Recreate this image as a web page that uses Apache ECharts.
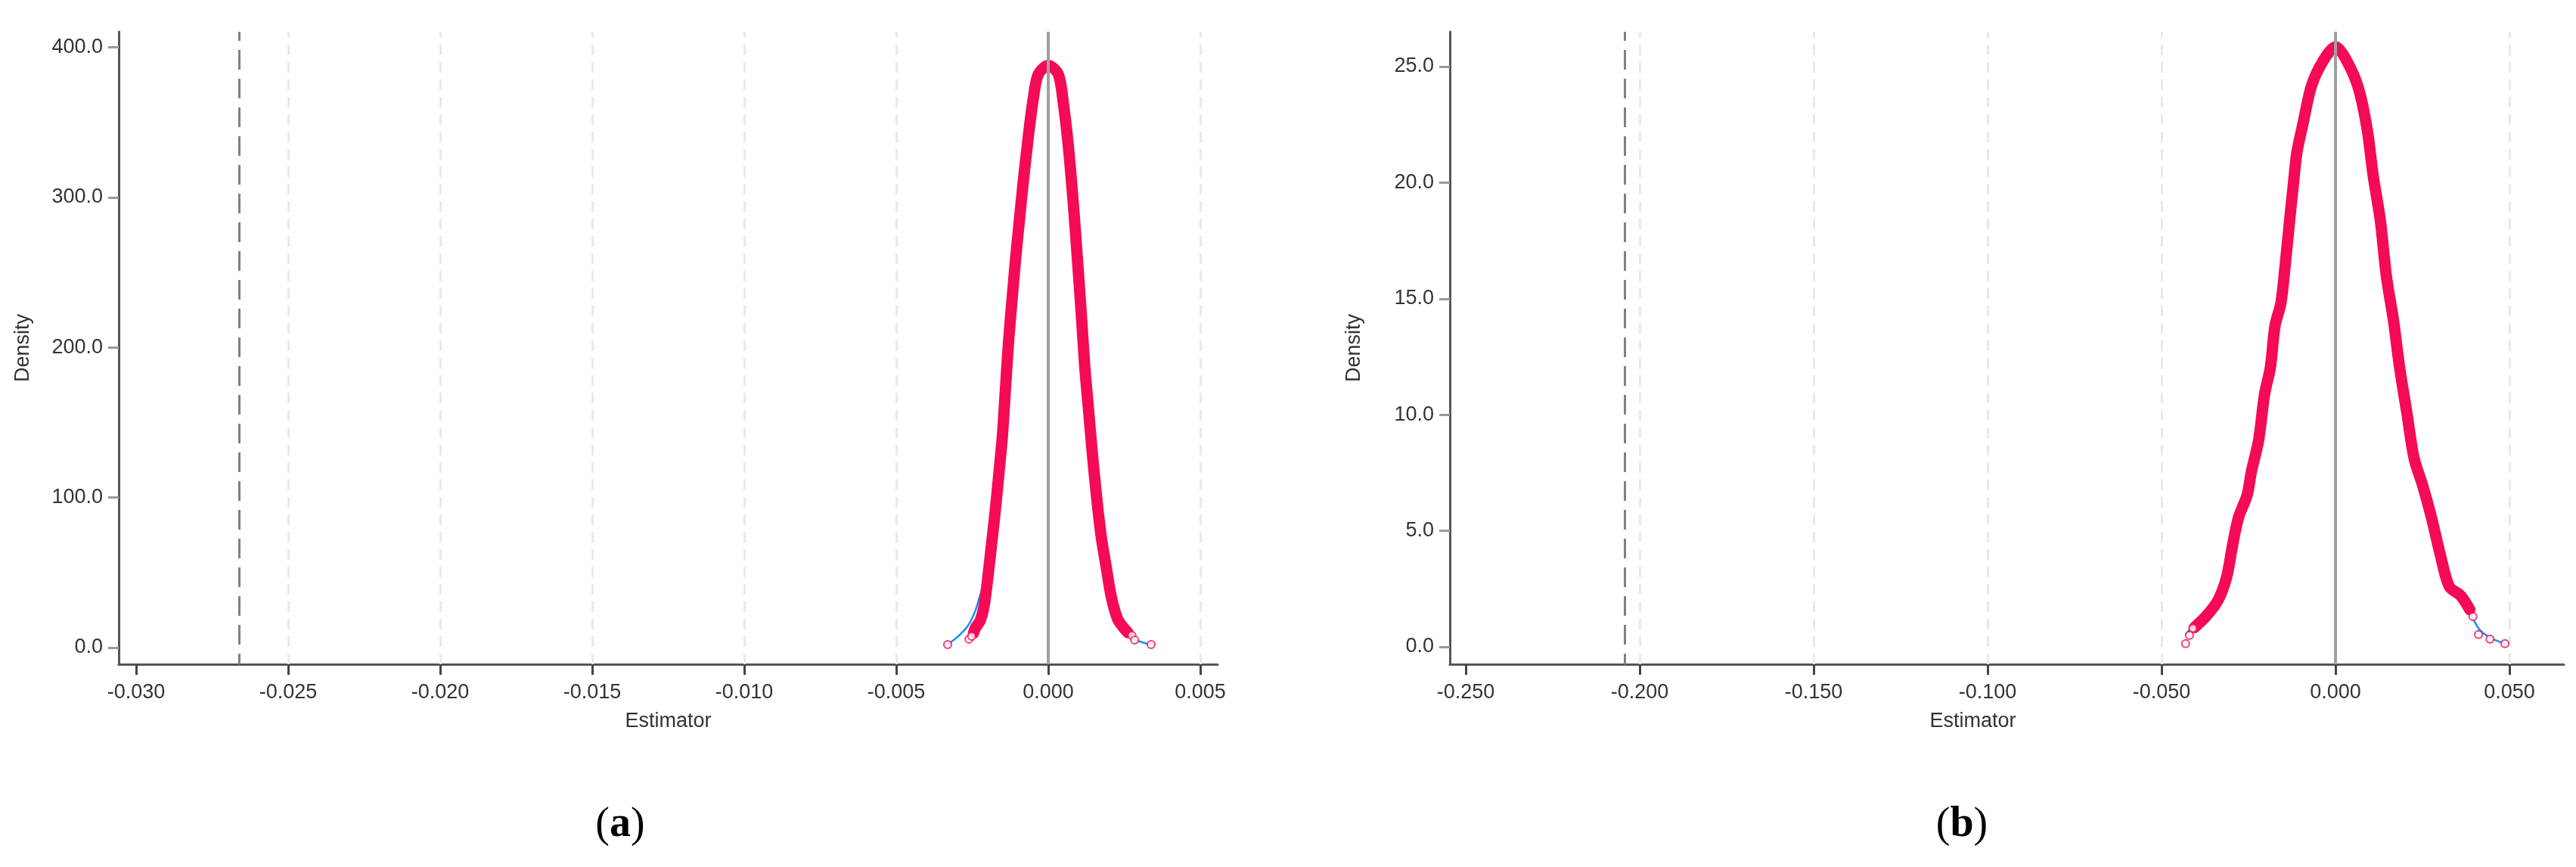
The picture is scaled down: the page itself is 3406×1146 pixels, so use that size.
<!DOCTYPE html>
<html><head><meta charset="utf-8">
<script src="https://cdn.jsdelivr.net/npm/echarts@6/dist/echarts.min.js"></script>
<style>html,body{margin:0;padding:0;background:#fff}#c{width:3406px;height:1146px}</style>
</head><body><div id="c"></div>
<script>
// ---------- tick labels ----------
const xTicksA = [-0.030, -0.025, -0.020, -0.015, -0.010, -0.005, 0.000, 0.005];
const yTicksA = [0, 100, 200, 300, 400];
const xTicksB = [-0.250, -0.200, -0.150, -0.100, -0.050, 0.000, 0.050];
const yTicksB = [0, 5, 10, 15, 20, 25];
const gridLinesA = [-0.025, -0.020, -0.015, -0.010, -0.005, 0.005];
const gridLinesB = [-0.200, -0.150, -0.100, -0.050, 0.050];
// ---------- reference lines ----------
const refLineA = -0.0266;
const refLineB = -0.2043;
// ---------- axis ranges ----------
const xRangeA = [-0.03057, 0.00557];
const yRangeA = [-11.1, 410.4];
const xRangeB = [-0.25457, 0.06565];
const yRangeB = [-0.75, 26.5];

// ---------- panel (a) ----------
const bandAx = [-0.00246,-0.00240,-0.00224,-0.00211,-0.00199,-0.00187,-0.00174,-0.00162,-0.00151,-0.00141,-0.00131,-0.00120,-0.00108,-0.00095,-0.00083,-0.00066,-0.00050,-0.00033,0.00000,0.00033,0.00050,0.00066,0.00083,0.00095,0.00108,0.00120,0.00133,0.00145,0.00158,0.00174,0.00191,0.00207,0.00228,0.00249,0.00262];
const bandAy = [9.6,13,18,28,46.5,68,92,117,141,172,203,230,258,285,309,340,365,382,388,382,362,334,294,261,224,187,157,129,102,74,53,34,19,12.9,10];
const dotsAx = [-0.00331,-0.00261,-0.00252,0.00275,0.00284,0.00338];
const dotsAy = [2,5.6,7.5,8,5,2];
const blueAx = [-0.00331,-0.00296,-0.00264,-0.00239,-0.00221,-0.00199,-0.00187,-0.00174,-0.00162,-0.00151,-0.00141,-0.00131,-0.00120,-0.00108,-0.00095,-0.00083,-0.00066,-0.00050,-0.00033,0.00000,0.00033,0.00050,0.00066,0.00083,0.00095,0.00108,0.00120,0.00133,0.00145,0.00158,0.00174,0.00191,0.00207,0.00228,0.00249,0.00284,0.00338];
const blueAy = [2,7.6,14.6,25,37,46.5,68,92,117,141,172,203,230,258,285,309,340,365,382,388,382,362,334,294,261,224,187,157,129,102,74,53,34,19,12.9,5.5,2];

// ---------- panel (b) ----------
const bandBx = [-0.0406,-0.0372,-0.0338,-0.0313,-0.0296,-0.0279,-0.0254,-0.0242,-0.0221,-0.0204,-0.0187,-0.0174,-0.0157,-0.0145,-0.0132,-0.0121,-0.0111,-0.0094,-0.0069,-0.0035,0.0000,0.0032,0.0066,0.0091,0.0108,0.0129,0.0146,0.0167,0.0184,0.0205,0.0226,0.0251,0.0276,0.0301,0.0327,0.0360,0.0386];
const bandBy = [0.83,1.32,2.0,3.0,4.37,5.56,6.54,7.53,8.9,10.87,12.06,13.83,14.81,16.39,18.36,19.94,21.3,22.5,24.17,25.26,25.85,25.26,24.07,22.3,20.33,18.36,16.0,14.03,12.06,10.09,8.12,6.93,5.56,3.98,2.6,2.2,1.6];
const dotsBx = [-0.0431,-0.0420,-0.0410,0.0395,0.0411,0.0444,0.0487];
const dotsBy = [0.14,0.5,0.8,1.3,0.53,0.33,0.14];
const blueBx = [-0.0431,-0.0406,-0.0372,-0.0338,-0.0313,-0.0296,-0.0279,-0.0254,-0.0242,-0.0221,-0.0204,-0.0187,-0.0174,-0.0157,-0.0145,-0.0132,-0.0121,-0.0111,-0.0094,-0.0069,-0.0035,0.0000,0.0032,0.0066,0.0091,0.0108,0.0129,0.0146,0.0167,0.0184,0.0205,0.0226,0.0251,0.0276,0.0301,0.0327,0.0360,0.0386,0.0411,0.0444,0.0487];
const blueBy = [0.53,1.0,1.6,2.3,3.0,4.37,5.56,6.54,7.53,8.9,10.87,12.06,13.83,14.81,16.39,18.36,19.94,21.3,22.5,24.17,25.26,25.85,25.26,24.07,22.3,20.33,18.36,16.0,14.03,12.06,10.09,8.12,6.93,5.56,3.98,2.6,2.2,1.5,0.8,0.4,0.14];

const zip = (xs, ys) => xs.map((x, i) => [x, ys[i]]);

const FONT = "'Liberation Sans', Arial, sans-serif";
const SERIF = "'Liberation Serif', 'Times New Roman', serif";
const RED = '#f50a55';
const BLUE = '#1a8cff';

function xAxisFor(idx, range, ticks, namePad) {
  return {
    type: 'value', gridIndex: idx, min: range[0], max: range[1],
    name: 'Estimator', nameLocation: 'middle', nameGap: 62,
    nameTextStyle: { fontFamily: FONT, fontSize: 27, color: '#333', padding: namePad },
    axisLine: { show: true, onZero: false, lineStyle: { color: '#555', width: 3 } },
    axisTick: { show: true, customValues: ticks, length: 14, lineStyle: { color: '#444', width: 3 } },
    axisLabel: { show: true, customValues: ticks, margin: 24, fontFamily: FONT, fontSize: 27, color: '#333',
                 formatter: v => v.toFixed(3) },
    splitLine: { show: false }
  };
}
function yAxisFor(idx, range, ticks) {
  return {
    type: 'value', gridIndex: idx, min: range[0], max: range[1],
    name: 'Density', nameLocation: 'middle', nameGap: 113, nameRotate: 90,
    nameTextStyle: { fontFamily: FONT, fontSize: 27, color: '#333' },
    axisLine: { show: true, onZero: false, lineStyle: { color: '#555', width: 3 } },
    axisTick: { show: true, customValues: ticks, length: 14, lineStyle: { color: '#999', width: 3 } },
    axisLabel: { show: true, customValues: ticks, margin: 21, fontFamily: FONT, fontSize: 27, color: '#333',
                 formatter: v => v.toFixed(1) },
    splitLine: { show: false }
  };
}
function seriesFor(idx, grid, ref, band, dots, blue) {
  return [
    {
      type: 'line', xAxisIndex: idx, yAxisIndex: idx, data: blue, showSymbol: false, smooth: 0.3,
      lineStyle: { color: BLUE, width: 2.5 }, z: 2, silent: true, animation: false,
      markLine: {
        z: 1, silent: true, symbol: 'none', animation: false, precision: 10, label: { show: false },
        lineStyle: { color: '#e9e9e9', width: 3, type: [14, 9] },
        data: grid.map(v => ({ xAxis: v }))
      }
    },
    {
      type: 'line', xAxisIndex: idx, yAxisIndex: idx, data: band, showSymbol: false, smooth: 0.3,
      lineStyle: { color: RED, width: 15, cap: 'round', join: 'round' }, z: 3, silent: true, animation: false,
      markLine: {
        z: 5, silent: true, symbol: 'none', animation: false, precision: 10, label: { show: false },
        data: [
          { xAxis: 0, lineStyle: { color: '#a0a0a0', width: 4, type: 'solid' } },
          { xAxis: ref, lineStyle: { color: '#808080', width: 3, type: [26, 12], dashOffset: 12 } }
        ]
      }
    },
    {
      type: 'scatter', xAxisIndex: idx, yAxisIndex: idx, data: dots, symbol: 'emptyCircle', symbolSize: 10,
      itemStyle: { color: RED, borderColor: RED, borderWidth: 3 }, z: 4, silent: true, animation: false
    }
  ];
}

const chart = echarts.init(document.getElementById('c'), null, { renderer: 'canvas' });
const panelTitle = (letter, x) => ({
  text: '({b|' + letter + '})', left: x, top: 1058, textAlign: 'center',
  textStyle: { fontFamily: SERIF, fontSize: 56, fontWeight: 'normal', color: '#000',
               rich: { b: { fontFamily: SERIF, fontSize: 56, fontWeight: 'bold', color: '#000' } } }
});
chart.setOption({
  backgroundColor: '#ffffff',
  animation: false,
  title: [panelTitle('a', 815), panelTitle('b', 2589)],
  grid: [
    { left: 157, top: 42, width: 1453, height: 836, containLabel: false },
    { left: 1917, top: 42, width: 1473, height: 836, containLabel: false }
  ],
  xAxis: [xAxisFor(0, xRangeA, xTicksA, [0, 0, 0, 0]), xAxisFor(1, xRangeB, xTicksB, [0, 90, 0, 0])],
  yAxis: [yAxisFor(0, yRangeA, yTicksA), yAxisFor(1, yRangeB, yTicksB)],
  series: [
    ...seriesFor(0, gridLinesA, refLineA, zip(bandAx, bandAy), zip(dotsAx, dotsAy), zip(blueAx, blueAy)),
    ...seriesFor(1, gridLinesB, refLineB, zip(bandBx, bandBy), zip(dotsBx, dotsBy), zip(blueBx, blueBy))
  ]
});
</script>
</body></html>
